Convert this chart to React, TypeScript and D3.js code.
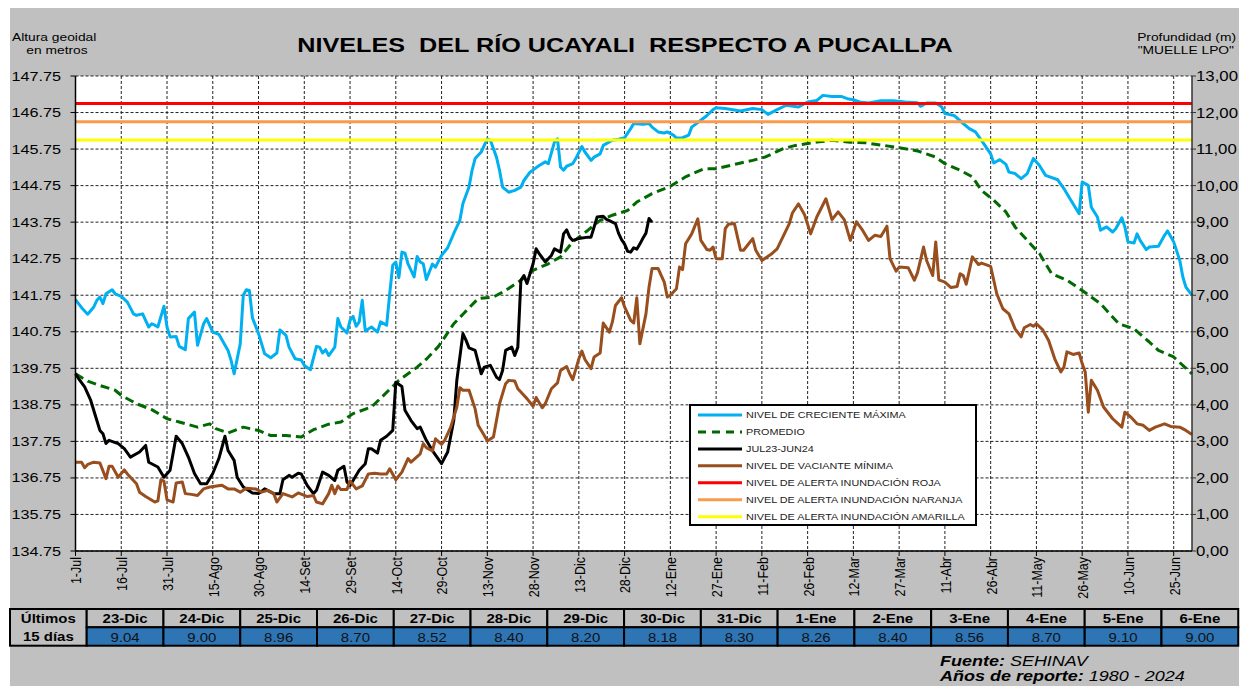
import React from "react";
import * as d3 from "d3";

// tick labels of the x axis, one every 15 days from 1-Jul
const xTickLabels = [
  "1-Jul", "16-Jul", "31-Jul", "15-Ago", "30-Ago", "14-Set", "29-Set", "14-Oct", "29-Oct",
  "13-Nov", "28-Nov", "13-Dic", "28-Dic", "12-Ene", "27-Ene", "11-Feb", "26-Feb", "12-Mar",
  "27-Mar", "11-Abr", "26-Abr", "11-May", "26-May", "10-Jun", "25-Jun",
];

// [day since 1-Jul, depth (m) at "MUELLE LPO"]
const maxima: [number, number][] = [
  [0, 6.88], [2, 6.66], [4, 6.48], [6, 6.68], [7, 6.86], [8, 6.95], [9, 6.77], [10, 7.04], [12, 7.15],
  [13, 7.04], [15, 6.97], [17, 6.81], [19, 6.49], [20, 6.45], [22, 6.49], [24, 6.13], [25, 6.22],
  [26, 6.18], [27, 6.13], [29, 6.7], [30, 6.13], [31, 5.86], [33, 5.87], [34, 5.6], [36, 5.51],
  [37, 6.36], [39, 6.54], [40, 5.63], [42, 6.22], [43, 6.36], [45, 5.99], [47, 5.93], [50, 5.49],
  [51, 5.22], [52, 4.85], [54, 5.67], [55, 7.0], [56, 7.15], [57, 7.13], [58, 6.38], [60, 5.95],
  [62, 5.4], [64, 5.29], [66, 5.42], [67, 6.05], [69, 5.9], [70, 5.58], [72, 5.26], [74, 5.23],
  [75, 5.08], [77, 4.96], [79, 5.6], [80, 5.58], [81, 5.42], [82, 5.51], [83, 5.35], [85, 5.58],
  [86, 6.36], [87, 6.13], [89, 5.97], [90, 6.31], [91, 6.42], [92, 6.15], [93, 6.27], [94, 6.86],
  [95, 6.02], [97, 6.13], [99, 5.99], [100, 6.27], [102, 6.18], [103, 7.04], [104, 7.82], [105, 7.91],
  [106, 7.48], [107, 8.18], [108, 8.15], [109, 7.86], [111, 7.5], [112, 8.06], [113, 7.91], [114, 7.86],
  [115, 7.43], [117, 7.85], [118, 7.77], [120, 8.09], [122, 8.3], [124, 8.69], [126, 9.05], [127, 9.51],
  [129, 9.96], [130, 10.42], [131, 10.74], [133, 10.92], [134, 11.1], [135, 11.28], [136, 11.24],
  [138, 10.78], [139, 10.42], [140, 9.96], [142, 9.82], [144, 9.87], [146, 9.96], [147, 10.14],
  [149, 10.37], [152, 10.55], [154, 10.65], [155, 10.6], [157, 11.19], [158, 11.28], [159, 10.51],
  [160, 10.42], [161, 10.53], [163, 10.6], [164, 10.74], [166, 11.07], [167, 10.92], [169, 10.69],
  [170, 10.78], [172, 10.87], [173, 11.1], [176, 11.24], [178, 11.27], [180, 11.31], [182, 11.56],
  [183, 11.7], [186, 11.68], [188, 11.7], [189, 11.6], [191, 11.47], [193, 11.44], [194, 11.47],
  [196, 11.38], [197, 11.3], [199, 11.31], [201, 11.38], [202, 11.6], [205, 11.79], [207, 11.92],
  [209, 12.08], [210, 12.13], [213, 12.11], [218, 12.04], [222, 12.11], [225, 12.08], [227, 11.95],
  [230, 12.08], [233, 12.2], [237, 12.15], [240, 12.29], [243, 12.33], [245, 12.47], [248, 12.44],
  [251, 12.44], [253, 12.38], [255, 12.35], [257, 12.29], [260, 12.26], [264, 12.32], [268, 12.32],
  [272, 12.29], [276, 12.27], [277, 12.17], [279, 12.26], [282, 12.26], [284, 12.15], [285, 11.97],
  [288, 11.92], [291, 11.7], [293, 11.56], [295, 11.47], [297, 11.24], [300, 10.87], [301, 10.62],
  [303, 10.71], [305, 10.58], [306, 10.37], [308, 10.33], [310, 10.19], [312, 10.33], [314, 10.74],
  [316, 10.55], [318, 10.28], [322, 10.16], [324, 9.92], [326, 9.64], [329, 9.23], [330, 10.1],
  [332, 10.01], [333, 9.41], [335, 9.14], [336, 8.78], [338, 8.87], [340, 8.73], [341, 8.82],
  [343, 9.12], [344, 8.87], [345, 8.46], [347, 8.43], [348, 8.68], [349, 8.5], [351, 8.25], [352, 8.32],
  [355, 8.34], [357, 8.64], [358, 8.76], [360, 8.46], [362, 7.95], [363, 7.5], [364, 7.22], [366, 7.0],
];

const promedio: [number, number][] = [
  [0, 4.85], [4, 4.65], [8, 4.53], [13, 4.4], [15, 4.26], [20, 4.03], [25, 3.87], [30, 3.62],
  [34, 3.53], [40, 3.39], [44, 3.48], [46, 3.35], [50, 3.23], [55, 3.39], [60, 3.3], [64, 3.16],
  [69, 3.16], [74, 3.12], [78, 3.32], [83, 3.47], [87, 3.53], [91, 3.76], [97, 3.94], [101, 4.26],
  [106, 4.67], [112, 5.03], [115, 5.25], [119, 5.6], [124, 6.22], [127, 6.48], [132, 6.91],
  [137, 6.95], [141, 7.13], [146, 7.41], [150, 7.68], [155, 7.86], [159, 8.05], [163, 8.46],
  [168, 8.78], [172, 9.05], [176, 9.19], [181, 9.32], [184, 9.55], [189, 9.78], [195, 9.98],
  [200, 10.24], [206, 10.46], [210, 10.46], [217, 10.6], [222, 10.69], [226, 10.78], [232, 11.01],
  [236, 11.1], [243, 11.19], [248, 11.24], [254, 11.19], [259, 11.17], [265, 11.1], [270, 11.04],
  [276, 10.95], [282, 10.78], [285, 10.6], [290, 10.42], [294, 10.24], [297, 9.87], [301, 9.6],
  [305, 9.28], [308, 8.87], [313, 8.41], [316, 8.14], [320, 7.59], [325, 7.41], [330, 7.13],
  [336, 6.77], [342, 6.22], [347, 6.08], [352, 5.72], [355, 5.49], [360, 5.31], [366, 4.85],
];

// JUL23-JUN24 up to 22-Dic; the last 15 days come from the table below
const actual: [number, number][] = [
  [0, 4.85], [1, 4.72], [3, 4.49], [5, 4.12], [7, 3.57], [8, 3.3], [9, 3.21], [10, 2.94], [11, 3.03],
  [14, 2.94], [16, 2.8], [18, 2.57], [21, 2.71], [23, 2.89], [24, 2.43], [27, 2.3], [29, 2.02],
  [31, 2.21], [33, 3.14], [35, 2.94], [37, 2.57], [39, 2.12], [41, 1.84], [43, 1.84], [45, 2.12],
  [47, 2.53], [49, 3.14], [50, 2.75], [52, 2.48], [53, 2.02], [55, 1.75], [58, 1.59], [60, 1.57],
  [62, 1.7], [65, 1.57], [67, 1.57], [68, 1.95], [70, 2.07], [71, 2.02], [73, 2.13], [74, 2.11],
  [76, 1.79], [78, 1.57], [79, 1.66], [81, 2.16], [83, 2.07], [85, 1.93], [86, 2.21], [88, 2.32],
  [89, 1.89], [90, 1.79], [91, 1.93], [93, 2.21], [95, 2.39], [96, 2.8], [97, 2.8], [99, 2.68],
  [100, 3.03], [102, 3.14], [104, 3.3], [105, 4.62], [107, 4.5], [108, 3.85], [110, 3.57],
  [112, 3.35], [113, 3.39], [115, 3.03], [117, 2.75], [120, 2.39], [122, 2.71], [124, 3.57],
  [125, 4.67], [127, 5.95], [128, 5.77], [129, 5.56], [131, 5.49], [133, 4.85], [134, 5.03],
  [136, 5.08], [138, 4.76], [139, 4.69], [140, 4.94], [141, 5.49], [143, 5.58], [144, 5.35],
  [145, 5.58], [146, 7.41], [147, 7.54], [148, 7.32], [150, 7.86], [151, 8.27], [152, 8.14],
  [154, 7.91], [156, 8.09], [157, 8.27], [159, 8.18], [160, 8.68], [161, 8.79], [162, 8.59],
  [163, 8.5], [165, 8.55], [168, 8.59], [169, 8.59], [171, 9.14], [173, 9.16], [174, 9.08],
];

const minima: [number, number][] = [
  [0, 2.43], [2, 2.43], [3, 2.28], [4, 2.37], [6, 2.43], [8, 2.41], [10, 1.98], [11, 2.32], [12, 2.32],
  [14, 2.02], [16, 2.22], [17, 2.11], [20, 1.84], [21, 1.61], [23, 1.49], [26, 1.34], [27, 1.37],
  [28, 1.95], [29, 1.91], [30, 1.4], [32, 1.34], [33, 1.86], [35, 1.89], [36, 1.57], [38, 1.55],
  [40, 1.52], [42, 1.7], [44, 1.75], [48, 1.8], [50, 1.7], [52, 1.7], [54, 1.61], [56, 1.72],
  [59, 1.7], [61, 1.61], [63, 1.66], [65, 1.57], [66, 1.34], [68, 1.57], [71, 1.48], [73, 1.59],
  [76, 1.49], [78, 1.52], [79, 1.34], [81, 1.29], [83, 1.57], [84, 1.8], [85, 1.57], [86, 1.78],
  [87, 1.68], [89, 1.68], [90, 1.92], [92, 1.7], [94, 1.78], [96, 2.11], [98, 2.13], [100, 2.11],
  [102, 2.11], [103, 2.25], [105, 1.95], [107, 2.16], [109, 2.53], [110, 2.43], [113, 2.66],
  [114, 2.94], [115, 2.83], [117, 2.74], [118, 3.07], [120, 2.92], [121, 3.03], [123, 3.39],
  [125, 3.94], [126, 4.47], [127, 4.4], [129, 4.4], [131, 3.89], [132, 3.44], [134, 3.16],
  [135, 3.01], [137, 3.12], [138, 3.57], [139, 4.03], [141, 4.58], [142, 4.67], [144, 4.65],
  [145, 4.44], [146, 4.35], [148, 4.17], [150, 3.96], [151, 4.2], [153, 3.92], [154, 4.03],
  [156, 4.44], [158, 4.6], [159, 4.94], [161, 5.05], [162, 4.85], [163, 4.69], [165, 5.26],
  [166, 5.47], [167, 5.24], [169, 4.99], [170, 5.31], [172, 5.42], [173, 6.24], [175, 5.99],
  [176, 6.27], [177, 6.72], [179, 6.93], [180, 6.68], [182, 6.31], [183, 6.24], [184, 6.93],
  [185, 5.67], [187, 6.49], [188, 7.22], [189, 7.73], [191, 7.73], [193, 7.36], [194, 6.95],
  [195, 7.0], [197, 7.18], [198, 7.77], [199, 7.7], [200, 8.41], [202, 8.68], [204, 9.09],
  [205, 8.5], [207, 8.25], [208, 8.23], [209, 8.32], [210, 8.0], [212, 8.0], [213, 8.82],
  [214, 8.94], [216, 8.96], [218, 8.23], [219, 8.23], [222, 8.55], [223, 8.23], [225, 7.95],
  [228, 8.12], [230, 8.27], [234, 8.96], [235, 9.25], [237, 9.5], [239, 9.2], [241, 8.68],
  [243, 9.14], [246, 9.64], [248, 9.07], [250, 9.28], [252, 9.07], [254, 8.5], [256, 9.01],
  [258, 8.78], [260, 8.5], [262, 8.64], [264, 8.61], [266, 8.89], [267, 8.0], [269, 7.66],
  [270, 7.77], [273, 7.75], [275, 7.41], [276, 7.61], [278, 8.32], [279, 7.95], [281, 7.54],
  [282, 8.46], [283, 7.42], [285, 7.36], [287, 7.21], [289, 7.24], [290, 7.59], [291, 7.54],
  [292, 7.3], [294, 8.05], [296, 7.84], [297, 7.88], [300, 7.79], [302, 7.04], [304, 6.63],
  [306, 6.49], [308, 6.08], [310, 5.86], [311, 6.11], [313, 6.2], [314, 6.15], [315, 6.22],
  [317, 6.06], [319, 5.76], [321, 5.26], [323, 4.9], [324, 5.03], [325, 5.45], [327, 5.38],
  [329, 5.42], [330, 5.13], [331, 4.9], [332, 3.8], [333, 4.67], [335, 4.4], [337, 3.94],
  [340, 3.62], [343, 3.39], [344, 3.8], [346, 3.66], [348, 3.48], [350, 3.44], [352, 3.3],
  [354, 3.39], [357, 3.48], [359, 3.41], [362, 3.39], [364, 3.3], [366, 3.19],
];

// last 15 days table
const tableDays = [
  "23-Dic", "24-Dic", "25-Dic", "26-Dic", "27-Dic", "28-Dic", "29-Dic", "30-Dic",
  "31-Dic", "1-Ene", "2-Ene", "3-Ene", "4-Ene", "5-Ene", "6-Ene",
];
const tableValues = [9.04, 9.0, 8.96, 8.7, 8.52, 8.4, 8.2, 8.18, 8.3, 8.26, 8.4, 8.56, 8.7, 9.1, 9.0];
const tableFirstDay = 175; // 23-Dic

// alert levels (depth, m)
const alertRoja = 12.25;
const alertNaranja = 11.75;
const alertAmarilla = 11.25;

const datum = 134.75;

const FONT = "'Liberation Sans', Arial, Helvetica, sans-serif";
const SX = 1.2; // the original picture is stretched horizontally

const T = ({ x, y, size, weight = "normal", italic = false, anchor = "start", fill = "#000", rotate = 0, baseline = "auto", children }: any) => (
  <text
    transform={`translate(${x},${y}) scale(${SX},1)${rotate ? ` rotate(${rotate})` : ""}`}
    fontFamily={FONT}
    fontSize={size}
    fontWeight={weight}
    fontStyle={italic ? "italic" : "normal"}
    textAnchor={anchor}
    dominantBaseline={baseline}
    fill={fill}
    style={{ whiteSpace: "pre" }}
  >
    {children}
  </text>
);

export default function App() {
  const W = 1249;
  const H = 686;
  const plot = { left: 75.5, right: 1192, top: 76, bottom: 551 };

  const x = d3.scaleLinear().domain([0, 366]).range([plot.left, plot.right]);
  const y = d3.scaleLinear().domain([0, 13]).range([plot.bottom, plot.top]);
  const line = d3
    .line<[number, number]>()
    .x((d) => x(d[0]))
    .y((d) => y(d[1]));

  const actualFull: [number, number][] = actual.concat(
    tableValues.map((v, i) => [tableFirstDay + i, v] as [number, number])
  );

  const yTicks = d3.range(0, 14);
  const xTicks = xTickLabels.map((_, i) => i * 15);

  const series = [
    { label: "NIVEL DE CRECIENTE MÁXIMA", color: "#00b0f0", dash: "" },
    { label: "PROMEDIO", color: "#006a00", dash: "9,5" },
    { label: "JUL23-JUN24", color: "#000000", dash: "" },
    { label: "NIVEL DE VACIANTE MÍNIMA", color: "#994e1e", dash: "" },
    { label: "NIVEL DE ALERTA INUNDACIÓN ROJA", color: "#ff0000", dash: "" },
    { label: "NIVEL DE ALERTA INUNDACIÓN NARANJA", color: "#f99b4c", dash: "" },
    { label: "NIVEL DE ALERTA INUNDACIÓN AMARILLA", color: "#ffff00", dash: "" },
  ];
  const lines = [maxima, promedio, actualFull, minima];
  const alerts = [alertRoja, alertNaranja, alertAmarilla];

  // table geometry
  const tX0 = 10;
  const tX1 = 86.7;
  const colW = 76.77;
  const tY0 = 609;
  const tY1 = 627.3;
  const tY2 = 645.7;

  const legend = { x: 690, y: 405, w: 286, h: 120 };

  return (
    <svg width={W} height={H} style={{ position: "absolute", left: 0, top: 0 }}>
      <rect x={10} y={8} width={1229} height={H - 8} fill="#c0c0c0" />

      {/* headings */}
      <T x={12} y={41} size={11.5}>Altura geoidal</T>
      <T x={57} y={54} size={11.5} anchor="middle">en metros</T>
      <T x={625} y={52} size={21} weight="bold" anchor="middle">
        {"NIVELES  DEL RÍO UCAYALI  RESPECTO A PUCALLPA"}
      </T>
      <T x={1236} y={41} size={11.5} anchor="end">Profundidad (m)</T>
      <T x={1234} y={54} size={11.5} anchor="end">"MUELLE LPO"</T>

      {/* plot area */}
      <rect x={plot.left} y={plot.top} width={plot.right - plot.left} height={plot.bottom - plot.top} fill="#fff" />
      {yTicks.map((t) => (
        <line key={"gy" + t} x1={plot.left} x2={plot.right} y1={y(t)} y2={y(t)} stroke="#222" strokeWidth={1} strokeDasharray="3,2" />
      ))}
      {xTicks.slice(1).map((t) => (
        <line key={"gx" + t} x1={x(t)} x2={x(t)} y1={plot.top} y2={plot.bottom} stroke="#222" strokeWidth={1} strokeDasharray="3,2" />
      ))}

      {lines.map((data, i) => (
        <path
          key={"s" + i}
          d={line(data) || ""}
          fill="none"
          stroke={series[i].color}
          strokeWidth={3}
          strokeDasharray={series[i].dash || undefined}
          strokeLinejoin="round"
        />
      ))}
      {alerts.map((a, i) => (
        <line key={"a" + i} x1={plot.left} x2={plot.right} y1={y(a)} y2={y(a)} stroke={series[4 + i].color} strokeWidth={3} />
      ))}

      {/* axes */}
      <line x1={plot.right} x2={plot.right} y1={plot.top} y2={plot.bottom} stroke="#333" strokeWidth={1.5} />
      <line x1={plot.left} x2={plot.left} y1={plot.top} y2={plot.bottom} stroke="#000" strokeWidth={1.5} />
      <line x1={plot.left} x2={plot.right} y1={plot.bottom} y2={plot.bottom} stroke="#000" strokeWidth={1.5} />
      {yTicks.map((t) => (
        <g key={"ty" + t}>
          <line x1={plot.left - 5} x2={plot.left} y1={y(t)} y2={y(t)} stroke="#000" />
          <line x1={plot.right} x2={plot.right + 4} y1={y(t)} y2={y(t)} stroke="#333" />
          <T x={61} y={y(t)} size={13.5} anchor="end" baseline="central">
            {(t + datum).toFixed(2)}
          </T>
          <T x={1196} y={y(t)} size={14} baseline="central">
            {t.toFixed(2).replace(".", ",")}
          </T>
        </g>
      ))}
      {xTicks.map((t, i) => (
        <g key={"tx" + t}>
          <line x1={x(t)} x2={x(t)} y1={plot.bottom} y2={plot.bottom + 5} stroke="#000" />
          <T x={x(t) + 1} y={557} size={12.5} anchor="end" baseline="central" rotate={-90}>
            {xTickLabels[i]}
          </T>
        </g>
      ))}

      {/* legend */}
      <rect x={legend.x} y={legend.y} width={legend.w} height={legend.h} fill="#fff" stroke="#000" strokeWidth={2} />
      {series.map((s, i) => {
        const ly = legend.y + 10 + i * 16.95;
        return (
          <g key={"l" + i}>
            <line x1={698} x2={742} y1={ly} y2={ly} stroke={s.color} strokeWidth={3} strokeDasharray={s.dash ? "8,6" : undefined} />
            <T x={746} y={ly} size={9} baseline="central" fill="#222">{s.label}</T>
          </g>
        );
      })}

      {/* table of the last 15 days */}
      <rect x={tX0} y={tY0} width={tX1 - tX0} height={tY2 - tY0} fill="#c0c0c0" stroke="#000" strokeWidth={2} />
      <T x={(tX0 + tX1) / 2} y={623} size={12.5} weight="bold" anchor="middle">Últimos</T>
      <T x={(tX0 + tX1) / 2} y={641} size={12.5} weight="bold" anchor="middle">15 días</T>
      {tableDays.map((d, i) => {
        const cx = tX1 + i * colW;
        return (
          <g key={"c" + i}>
            <rect x={cx} y={tY0} width={colW} height={tY1 - tY0} fill="#c0c0c0" stroke="#000" strokeWidth={2} />
            <rect x={cx} y={tY1} width={colW} height={tY2 - tY1} fill="#2e75b6" stroke="#000" strokeWidth={2} />
            <T x={cx + colW / 2} y={623} size={12.5} weight="bold" anchor="middle">{d}</T>
            <T x={cx + colW / 2} y={641.5} size={12.5} anchor="middle" fill="#111">{tableValues[i].toFixed(2)}</T>
          </g>
        );
      })}

      {/* source */}
      <T x={940} y={666} size={15} italic>
        <tspan fontWeight="bold">Fuente:</tspan> SEHINAV
      </T>
      <T x={940} y={681} size={15} italic>
        <tspan fontWeight="bold">Años de reporte:</tspan> 1980 - 2024
      </T>
    </svg>
  );
}
